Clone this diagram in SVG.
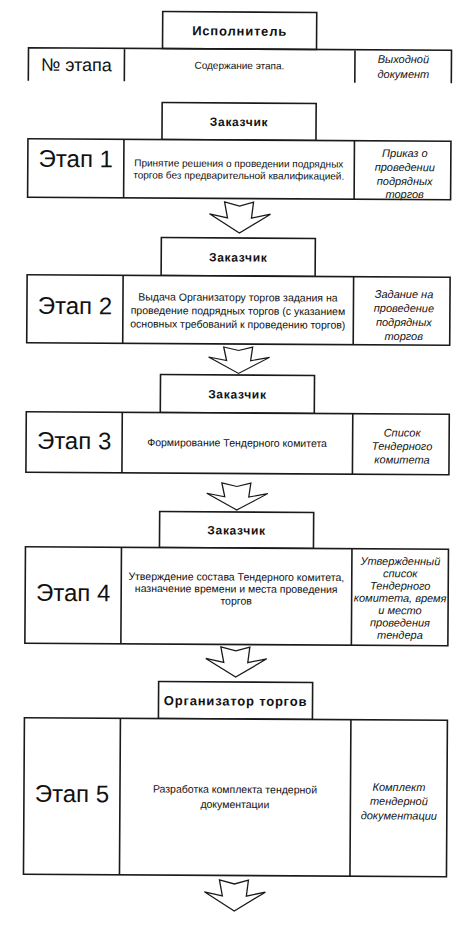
<svg xmlns="http://www.w3.org/2000/svg" width="475" height="925" viewBox="0 0 475 925">
<style>
.b{fill:#fff;stroke:#1a1a1a;stroke-width:1.6}
.l{fill:none;stroke:#1a1a1a;stroke-width:1.6}
.ar{fill:#fff;stroke:#1a1a1a;stroke-width:1.3;stroke-linejoin:miter}
text{font-family:"Liberation Sans",Arial,sans-serif;fill:#111;text-anchor:middle}
.ex{font-size:12px;font-weight:bold;letter-spacing:0.7px}
.st{font-size:24px}
.c{font-size:10.5px}
.r{font-size:11px;font-style:italic}
</style>
<rect width="475" height="925" fill="#fff"/>
<g transform="rotate(0.35 237 460)">
<g id="header">
<rect class="b" x="160" y="12" width="154" height="37"/>
<text x="237" y="35.5" style="font-size:13px;font-weight:bold;letter-spacing:0.8px">Исполнитель</text>
<path class="l" d="M26,82 V49 H449 V82 M122,49 V82 M352.5,49 V82"/>
<text x="74" y="72" style="font-size:18px">№ этапа</text>
<text x="237" y="69" style="font-size:10px">Содержание этапа.</text>
<text class="r" x="401" y="62">Выходной</text>
<text class="r" x="401" y="77">документ</text>
</g>
<g id="stage1">
<rect class="b" x="160" y="103" width="154" height="37"/>
<text class="ex" x="237" y="126">Заказчик</text>
<rect class="b" x="26" y="140" width="423" height="58.5"/>
<path class="l" d="M122,140 V198.5 M352.5,140 V198.5"/>
<text class="st" x="74" y="168">Этап 1</text>
<text x="237" y="167" style="font-size:10px">Принятие решения о проведении подрядных</text>
<text x="237" y="179" style="font-size:10px">торгов без предварительной квалификацией.</text>
<text class="r" x="403" y="156">Приказ о</text>
<text class="r" x="403" y="170">проведении</text>
<text class="r" x="403" y="184">подрядных</text>
<text class="r" x="403" y="197">торгов</text>
</g>
<g id="stage2">
<rect class="b" x="160" y="238" width="154" height="38"/>
<text class="ex" x="237" y="261.5">Заказчик</text>
<rect class="b" x="26" y="276" width="423" height="68"/>
<path class="l" d="M122,276 V344 M352.5,276 V344"/>
<text class="st" x="74" y="315">Этап 2</text>
<text class="c" x="237" y="301">Выдача Организатору торгов задания на</text>
<text class="c" x="237" y="314.5">проведение подрядных торгов (с указанием</text>
<text class="c" x="237" y="328">основных требований к проведению торгов)</text>
<text class="r" x="403" y="297">Задание на</text>
<text class="r" x="403" y="311">проведение</text>
<text class="r" x="403" y="325">подрядных</text>
<text class="r" x="403" y="339">торгов</text>
</g>
<g id="stage3">
<rect class="b" x="160" y="375" width="154" height="38"/>
<text class="ex" x="237" y="398.5">Заказчик</text>
<rect class="b" x="26" y="413" width="423" height="60.5"/>
<path class="l" d="M122,413 V473.5 M352.5,413 V473.5"/>
<text class="st" x="74" y="450">Этап 3</text>
<text class="c" x="237" y="446.5">Формирование Тендерного комитета</text>
<text class="r" x="402" y="435.5">Список</text>
<text class="r" x="402" y="449">Тендерного</text>
<text class="r" x="402" y="462.5">комитета</text>
</g>
<g id="stage4">
<rect class="b" x="160" y="512" width="154" height="36"/>
<text class="ex" x="237" y="534.5">Заказчик</text>
<rect class="b" x="26" y="548" width="423" height="96.5"/>
<path class="l" d="M122,548 V644.5 M352.5,548 V644.5"/>
<text class="st" x="74" y="602">Этап 4</text>
<text class="c" x="237" y="580.5">Утверждение состава Тендерного комитета,</text>
<text class="c" x="237" y="592.5">назначение времени и места проведения</text>
<text class="c" x="237" y="604.5">торгов</text>
<text class="r" x="401" y="564">Утвержденный</text>
<text class="r" x="401" y="576.3">список</text>
<text class="r" x="401" y="588.6">Тендерного</text>
<text class="r" x="401" y="600.9">комитета, время</text>
<text class="r" x="401" y="613.2">и место</text>
<text class="r" x="401" y="625.5">проведения</text>
<text class="r" x="401" y="637.8">тендера</text>
</g>
<g id="stage5">
<rect class="b" x="160" y="682" width="154" height="37"/>
<text class="ex" x="237" y="705.5" style="font-size:13px;letter-spacing:0.8px">Организатор торгов</text>
<rect class="b" x="26" y="719" width="423" height="156.5"/>
<path class="l" d="M122,719 V875.5 M352.5,719 V875.5"/>
<text class="st" x="74" y="803">Этап 5</text>
<text class="c" x="237" y="793">Разработка комплекта тендерной</text>
<text class="c" x="237" y="808">документации</text>
<text class="r" x="401" y="790">Комплект</text>
<text class="r" x="401" y="804">тендерной</text>
<text class="r" x="401" y="818.5">документации</text>
</g>
<g id="connectors">
<path class="ar" transform="translate(238 202)" d="M-15,0 L0,4 L14,0 L12,16 L31,12 L0,31 L-30,12 L-12,16 Z"/>
<path class="ar" transform="translate(238 347) scale(1 0.85)" d="M-15,0 L0,4 L14,0 L12,16 L31,12 L0,31 L-30,12 L-12,16 Z"/>
<path class="ar" transform="translate(237 483) scale(1 0.87)" d="M-15,0 L0,4 L14,0 L12,16 L31,12 L0,31 L-30,12 L-12,16 Z"/>
<path class="ar" transform="translate(237 647) scale(1 0.97)" d="M-15,0 L0,4 L14,0 L12,16 L31,12 L0,31 L-30,12 L-12,16 Z"/>
<path class="ar" transform="translate(237 880)" d="M-15,0 L0,4 L14,0 L12,16 L31,12 L0,31 L-30,12 L-12,16 Z"/>
</g>
</g>
</svg>
